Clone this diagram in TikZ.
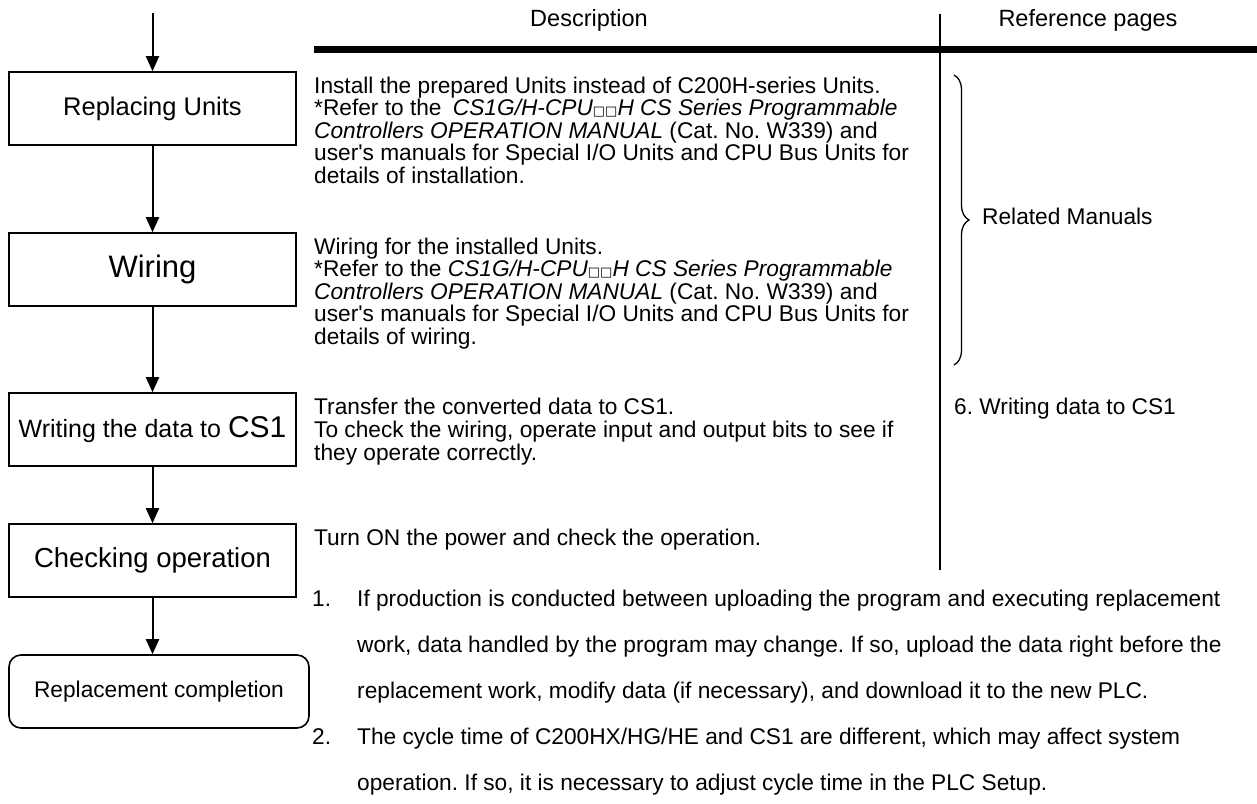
\documentclass[tikz,border=0pt]{standalone}
\usepackage{fontspec}
\setmainfont{Liberation Sans}
\newfontfamily\apfont{Liberation Sans}
\newfontfamily\symfont{DejaVu Sans}
\usetikzlibrary{arrows.meta,decorations.pathreplacing}
\frenchspacing
\newcommand{\sqs}{{\symfont\fontsize{13}{13}\selectfont\raisebox{0.5pt}{□□}}}
\newcommand{\ap}{{\apfont '}}
\newcommand{\plines}[2]{\vtop{\baselineskip=#1\relax\lineskiplimit=-60pt\lineskip=0pt\relax #2}}
\tikzset{
  box/.style={draw, line width=1.6pt, minimum width=287pt, minimum height=73pt, inner sep=0pt, align=center},
  conn/.style={line width=2pt, -{Triangle[length=15pt,width=13pt]}},
  desc/.style={anchor=base west, inner sep=0pt, font=\fontsize{22.7}{22}\selectfont},
  head/.style={anchor=base, inner sep=0pt, font=\fontsize{23.5}{24}\selectfont}
}
\begin{document}
\begin{tikzpicture}[x=1pt,y=-1pt]
\useasboundingbox (0,0) rectangle (1257,803);
% table header
\node[head] (hdesc) at (589,26) {Description};
\node[head] (href) at (1088,26) {Reference pages};
\draw[line width=7.5pt] (314,49.5) -- (1257,49.5);
\draw[line width=1.5pt] (940,14) -- (940,570);
% flow boxes
\coordinate (start) at (152.5,13);
\node[box, font=\fontsize{25.5}{26}\selectfont] (b1) at (152.5,108.5) {Replacing Units};
\node[box, font=\fontsize{31}{32}\selectfont] (b2) at (152.5,269.5) {Wiring};
\node[box, font=\fontsize{25}{26}\selectfont] (b3) at (152.5,429.5) {Writing the data to {\fontsize{30}{30}\selectfont CS1}};
\node[box, font=\fontsize{27.5}{28}\selectfont] (b4) at (152.5,560.5) {Checking operation};
\node[box, rounded corners=12pt, minimum width=300pt, font=\fontsize{22.7}{23}\selectfont] (b5) at (159,691.5) {Replacement completion};
\draw[conn] (start) -- (b1.north);
\draw[conn] (b1) -- (b2);
\draw[conn] (b2) -- (b3);
\draw[conn] (b3) -- (b4);
\draw[conn] (b4.south) -- (b4.south |- b5.north);
% descriptions
\node[desc] (d1) at (314,93) {\plines{22.5pt}{%
  \hbox{Install the prepared Units instead of C200H-series Units.}%
  \hbox{*Refer to the\hspace{5pt} \textit{CS1G/H-CPU\sqs H CS Series Programmable}}%
  \hbox{\textit{Controllers OPERATION MANUAL} (Cat. No. W339) and}%
  \hbox{user\ap s manuals for Special I/O Units and CPU Bus Units for}%
  \hbox{details of installation.}}};
\node[desc] (d2) at (314,254) {\plines{22.5pt}{%
  \hbox{Wiring for the installed Units.}%
  \hbox{*Refer to the \textit{CS1G/H-CPU\sqs H CS Series Programmable}}%
  \hbox{\textit{Controllers OPERATION MANUAL} (Cat. No. W339) and}%
  \hbox{user\ap s manuals for Special I/O Units and CPU Bus Units for}%
  \hbox{details of wiring.}}};
\node[desc] (d3) at (314,414) {\plines{23pt}{%
  \hbox{Transfer the converted data to CS1.}%
  \hbox{To check the wiring, operate input and output bits to see if}%
  \hbox{they operate correctly.}}};
\node[desc] (d4) at (314,545) {Turn ON the power and check the operation.};
% reference pages
\draw[line width=1.3pt, decorate, decoration={brace, amplitude=15pt}] (954,75) -- (954,365);
\node[desc] (r1) at (982,224) {Related Manuals};
\node[desc] (r2) at (954,414) {6. Writing data to CS1};
% notes
\node[desc] (n1num) at (312,606) {1.};
\node[desc] (n1) at (357,606) {\plines{46pt}{%
  \hbox{If production is conducted between uploading the program and executing replacement}%
  \hbox{work, data handled by the program may change. If so, upload the data right before the}%
  \hbox{replacement work, modify data (if necessary), and download it to the new PLC.}}};
\node[desc] (n2num) at (312,744) {2.};
\node[desc] (n2) at (357,744) {\plines{46pt}{%
  \hbox{The cycle time of C200HX/HG/HE and CS1 are different, which may affect system}%
  \hbox{operation. If so, it is necessary to adjust cycle time in the PLC Setup.}}};
\end{tikzpicture}
\end{document}
